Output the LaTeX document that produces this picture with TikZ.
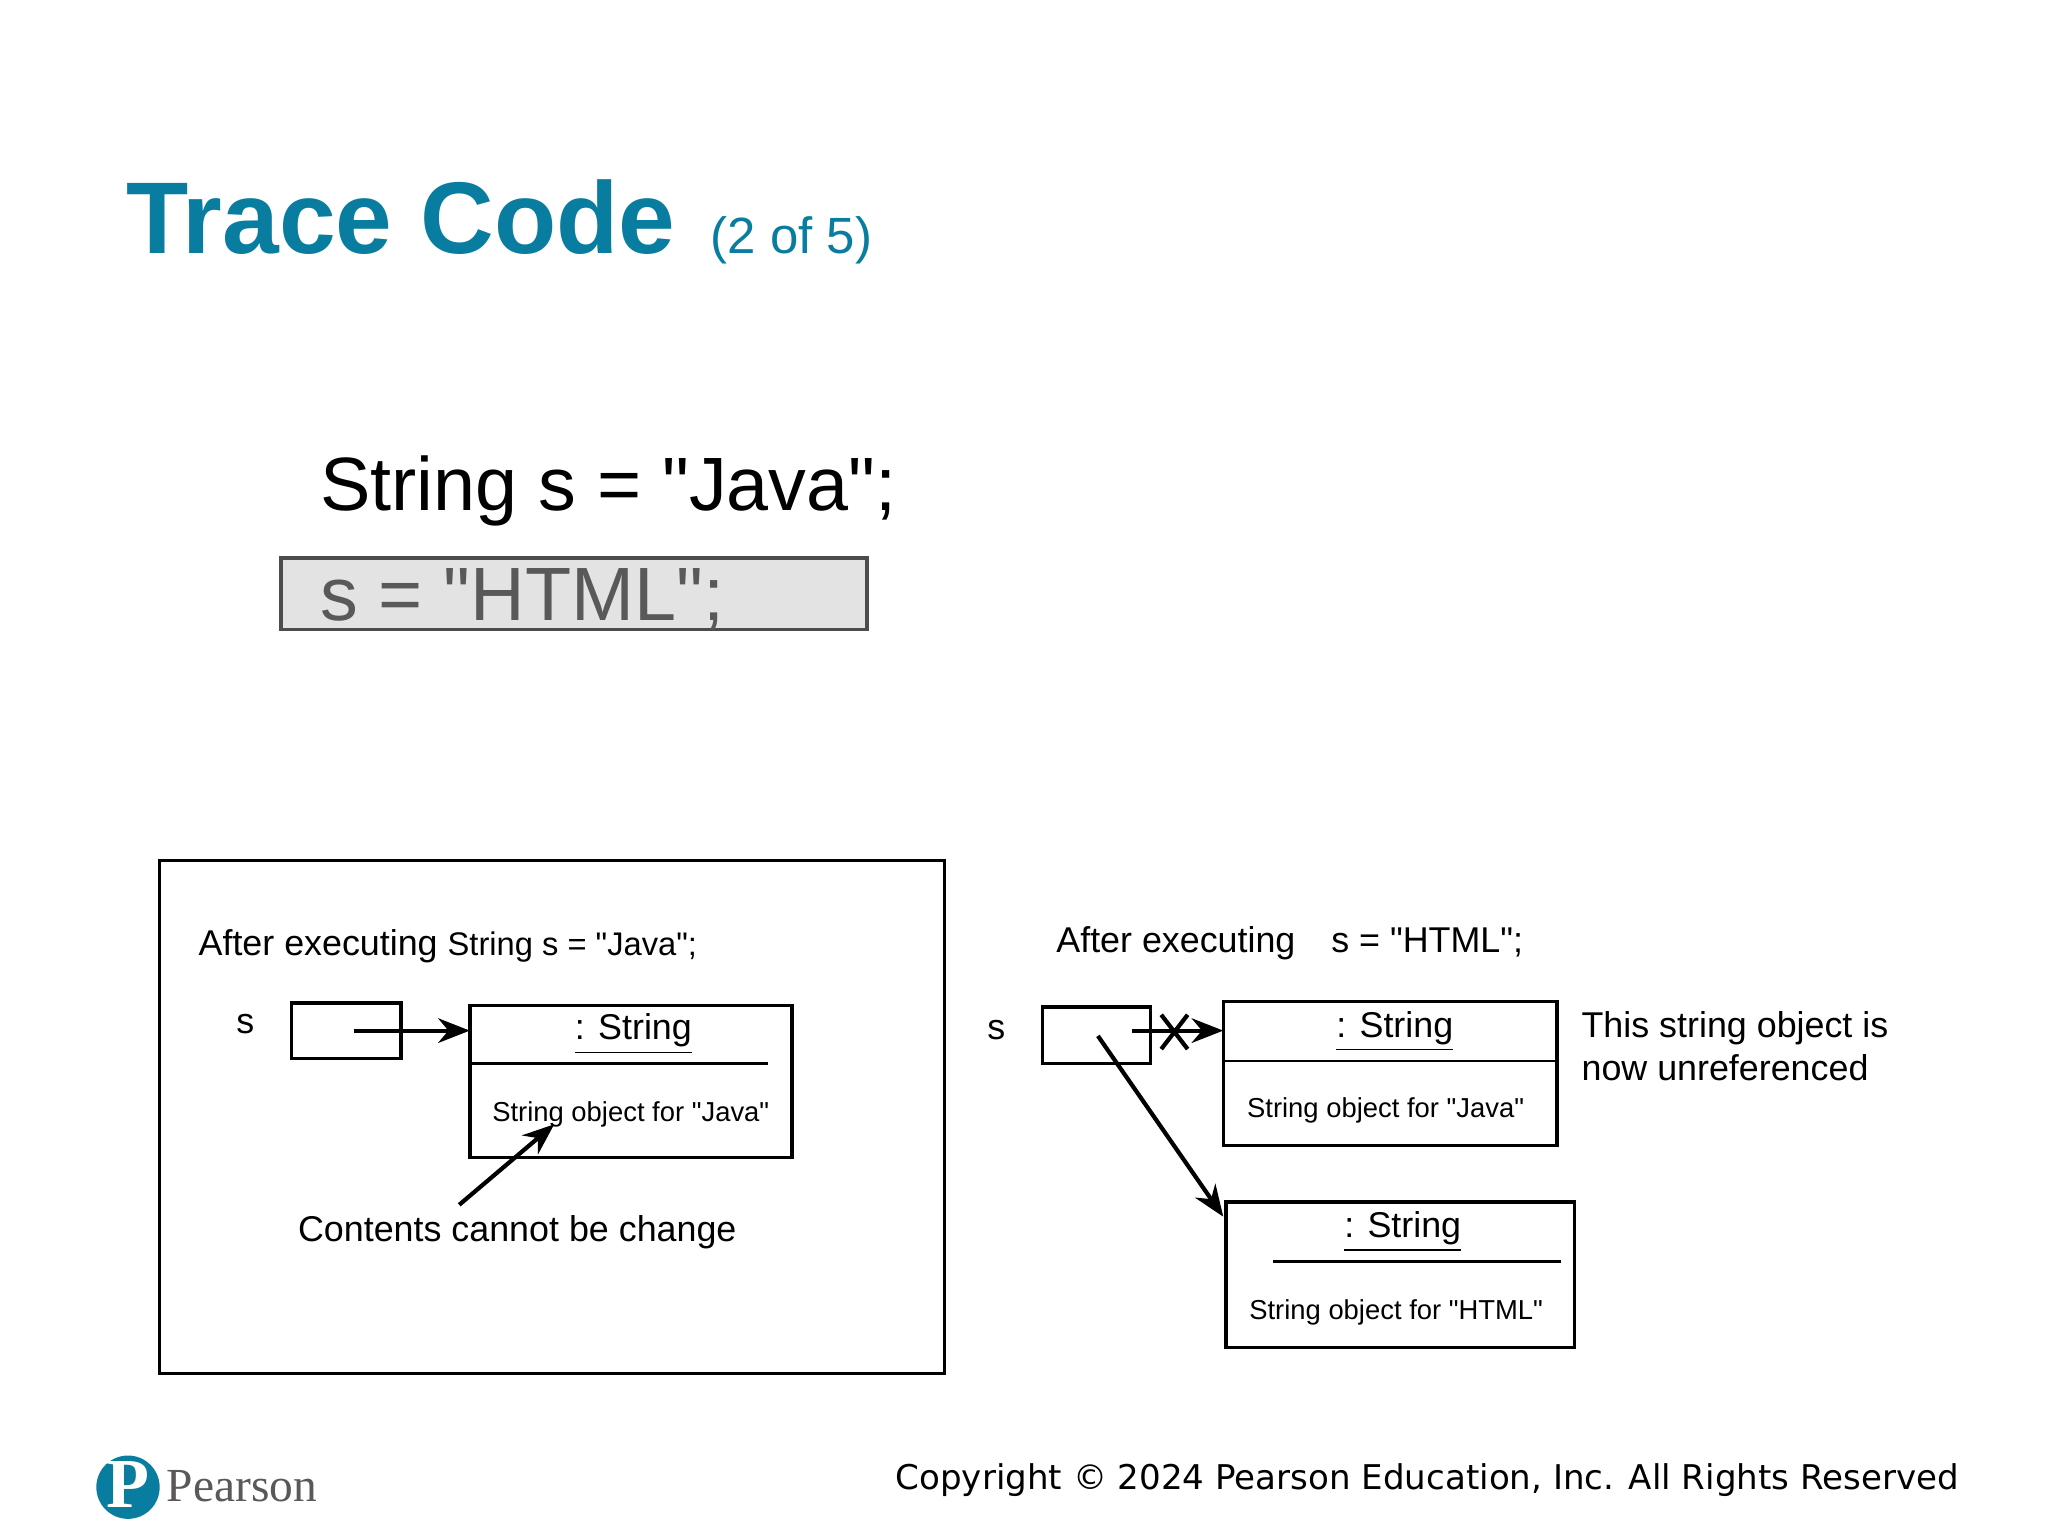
\documentclass[tikz,border=0pt]{standalone}
\usepackage{fontspec}
\setmainfont{Liberation Sans}[Ligatures=TeXOff]
\newfontfamily\serifp{Liberation Serif}
\newfontfamily\copyf{DejaVu Sans}
\usetikzlibrary{arrows.meta}
\definecolor{teal1}{RGB}{8,125,160}
\newcommand\qq{"}
\begin{document}
\begin{tikzpicture}[x=0.013196cm,y=-0.013196cm,
  box/.style={draw,line width=1pt},
  arr/.style={-{Stealth[length=9pt,width=7pt]},line width=1.2pt},
  lbl/.style={font=\fontsize{10.2}{12}\selectfont,inner sep=0pt},
  sm/.style={font=\fontsize{7.8}{10}\selectfont,inner sep=0pt}]
\useasboundingbox[fill=white] (0,0) rectangle (1552,1164);
% title
\node[anchor=base west,inner sep=0pt,text=teal1,font=\fontsize{29}{34}\selectfont\bfseries] (title) at (95,192) {Trace Code};
\node[anchor=base west,inner sep=0pt,text=teal1,font=\fontsize{14.5}{18}\selectfont] (sub) at (538,192) {(2 of 5)};
% code
\node[anchor=base west,inner sep=0pt,font=\fontsize{21.5}{26}\selectfont] (c1) at (242,387) {String s = \qq Java\qq;};
\draw[draw=black!70,fill=gray!22,line width=1pt] (213,423) rectangle (657,477);
\node[anchor=base west,inner sep=0pt,text=black!65,font=\fontsize{21.5}{26}\selectfont] (c2) at (242,470) {s = \qq HTML\qq;};
% left frame
\draw[line width=0.8pt] (121,652) rectangle (716,1041);
\node[lbl,anchor=base west] (a1) at (150,724) {After executing \fontsize{9.3}{11}\selectfont String s = \qq Java\qq;};
\node[lbl,anchor=base] (s1) at (186,783) {s};
\draw[box] (221,760) rectangle (304,802);
\coordinate (r1c) at (268,781);
\coordinate (o1w) at (356,781);
\draw[box] (356,762) rectangle (600,877);
\draw[line width=0.8pt] (356,806) -- (582,806);
\node[lbl,anchor=base] (t1) at (480,788) {\underline{: String}};
\node[sm,anchor=base] (t2) at (478,850) {String object for \qq Java\qq};
\draw[arr] (r1c) -- (o1w);
\coordinate (cc1) at (348,913);
\coordinate (cc2) at (420,852);
\draw[arr] (cc1) -- (cc2);
\node[lbl,anchor=base] (cn) at (392,941) {Contents cannot be change};
% right
\node[lbl,anchor=base west] (a2) at (800,722) {After executing\quad s = \qq HTML\qq;};
\node[lbl,anchor=base] (s2) at (755,788) {s};
\draw[box] (790,763) rectangle (872,806);
\coordinate (r2c) at (858,781);
\coordinate (o2w) at (927,781);
\draw[arr] (r2c) -- (o2w);
\draw[line width=1.2pt] (880,769) -- (900,795) (880,795) -- (900,769);
\draw[box] (927,759) rectangle (1180,868);
\draw[line width=0.8pt] (927,804) -- (1180,804);
\node[lbl,anchor=base] (t3) at (1057,786) {\underline{: String}};
\node[sm,anchor=base] (t4) at (1050,847) {String object for \qq Java\qq};
\node[lbl,anchor=base west] (u1) at (1198,786) {This string object is};
\node[lbl,anchor=base west] (u2) at (1198,819) {now unreferenced};
\coordinate (r2d) at (832,785);
\coordinate (o3n) at (927,922);
\draw[arr] (r2d) -- (o3n);
\draw[box] (929,911) rectangle (1193,1021);
\draw[line width=0.8pt] (965,956) -- (1183,956);
\node[lbl,anchor=base] (t5) at (1063,938) {\underline{: String}};
\node[sm,anchor=base] (t6) at (1058,1000) {String object for \qq HTML\qq};
% footer
\fill[teal1] (97,1127) circle (24);
\node[text=white,font=\fontsize{20}{20}\selectfont\bfseries\serifp,inner sep=0pt] (lp) at (97,1125) {P};
\node[anchor=base west,inner sep=0pt,text=black!65,font=\fontsize{13.5}{16}\selectfont\serifp] (pn) at (126,1138) {Pearson};
\node[anchor=base east,inner sep=0pt,font=\fontsize{9.7}{12}\selectfont\copyf] (cp) at (1485,1129) {Copyright © 2024 Pearson Education, Inc. All Rights Reserved};
\end{tikzpicture}
\end{document}
